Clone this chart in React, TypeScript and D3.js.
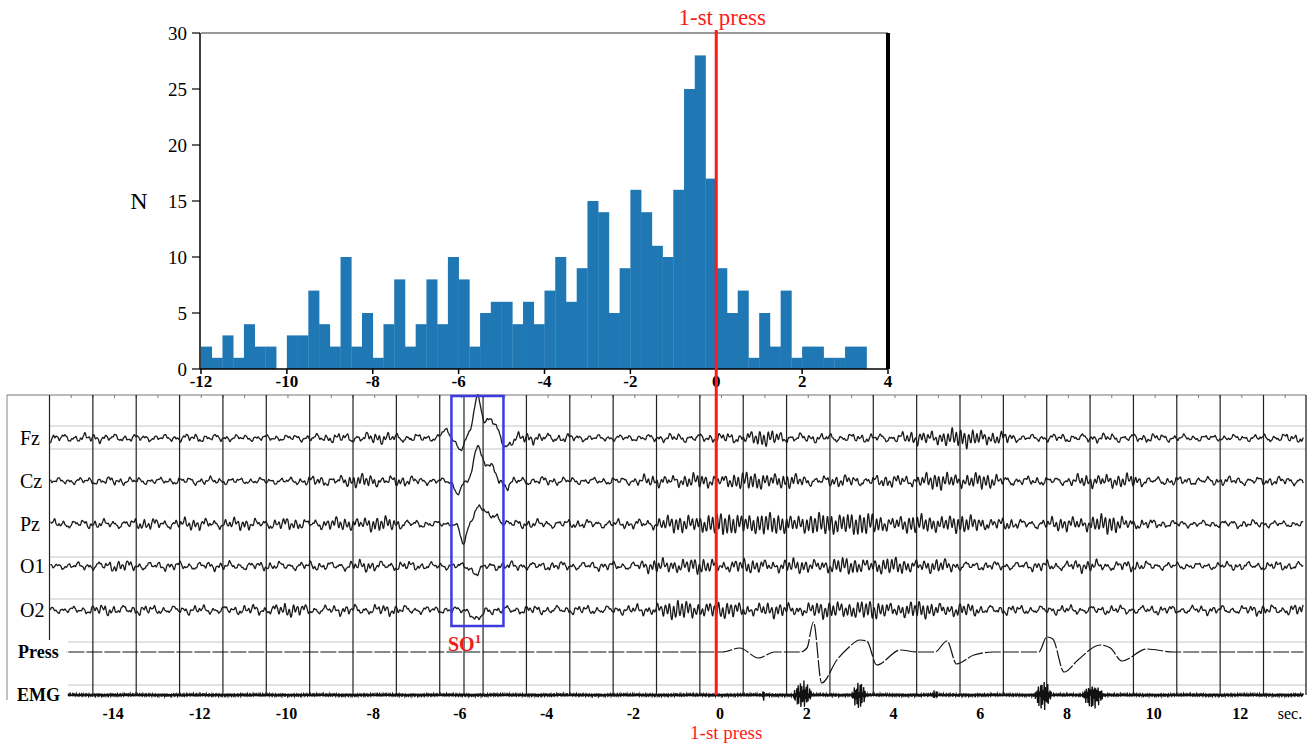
import React from "react";
import * as d3 from "d3";

// ---- histogram data (0.25 s bins starting at -12 s) ----
const histStart = -12;
const binWidth = 0.25;
const histCounts = [
  2, 1, 3, 1, 4, 2, 2, 0,
  3, 3, 7, 4, 2, 10, 2, 5,
  1, 4, 8, 2, 4, 8, 4, 10,
  8, 2, 5, 6, 6, 4, 6, 4,
  7, 10, 6, 9, 15, 14, 5, 9, 16, 14, 11, 10, 16, 25, 28, 17,
  9, 5, 7, 1, 5, 2, 7, 1, 2, 2, 1, 1, 2, 2,
];
const histXTicks = [-12, -10, -8, -6, -4, -2, 0, 2, 4];
const histYTicks = [0, 5, 10, 15, 20, 25, 30];

// ---- EEG record ----
const channels = ["Fz", "Cz", "Pz", "O1", "O2"];
// amplitude envelope per second, t = -15 ... 13
const envTimes = [-15, -14, -13, -12, -11, -10, -9, -8, -7, -6, -5, -4, -3, -2, -1, 0, 1, 2, 3, 4, 5, 6, 7, 8, 9, 10, 11, 12, 13];
const ampFz = [4, 4, 3, 4, 3, 3, 4, 5, 4, 2, 4, 5, 3, 3, 4, 4, 7, 4, 4, 4, 7, 8, 3, 4, 4, 4, 3, 3, 4];
const ampCz = [3, 4, 3, 4, 3, 3, 5, 6, 4, 2, 4, 4, 3, 4, 6, 6, 8, 5, 5, 5, 7, 7, 4, 4, 7, 4, 4, 4, 4];
const ampPz = [4, 4, 5, 5, 5, 5, 5, 7, 4, 2, 4, 4, 4, 4, 7, 9, 9, 8, 10, 7, 8, 7, 4, 6, 8, 4, 3, 4, 3];
const ampO1 = [3, 5, 4, 4, 4, 4, 4, 5, 4, 3, 4, 4, 4, 4, 7, 6, 6, 6, 7, 7, 6, 4, 4, 5, 5, 4, 3, 4, 4];
const ampO2 = [3, 5, 4, 4, 4, 6, 4, 5, 4, 3, 4, 4, 4, 4, 8, 7, 6, 6, 8, 7, 7, 5, 4, 4, 4, 4, 4, 4, 5];
const channelAmps = [ampFz, ampCz, ampPz, ampO1, ampO2];
// slow oscillation SO1 components: [time, amplitude (up +), width]
const soFz = [[-6.3, 8, 0.07], [-5.95, -12, 0.07], [-5.55, 40, 0.09], [-5.25, 18, 0.13], [-4.88, -8, 0.1]];
const soCz = [[-6.0, -12, 0.08], [-5.55, 34, 0.08], [-5.3, 16, 0.14], [-4.9, -5, 0.1]];
const soPz = [[-5.87, -20, 0.07], [-5.5, 18, 0.12], [-5.15, 8, 0.12]];
const soO1 = [[-5.58, -7, 0.1]];
const soO2 = [[-5.56, -10, 0.1]];
const channelSO = [soFz, soCz, soPz, soO1, soO2];

// button press sensor: [time, deflection (up +)]
const pressTimes = [-15.4, 0.1, 0.5, 0.93, 1.3, 1.9, 2.05, 2.2, 2.39, 2.74, 3.0, 3.27, 3.43, 3.66, 4.2, 4.6, 5.0, 5.28, 5.5, 5.9, 6.35, 7.4, 7.58, 7.72, 7.98, 8.3, 8.81, 9.05, 9.31, 9.89, 10.5, 13.5];
const pressVals = [0, 0, 4, -6, 0, 0, 4, 30, -31, -8, 4, 12, 11, -13, 2, 0, 0, 11, -12, -3, 0, 0, 15, 13, -20, -8, 7, 4, -9, 3, 0, 0];
// EMG bursts: [centre time, duration, amplitude]
const emgBursts = [[1.05, 0.04, 7], [1.95, 0.45, 11], [3.25, 0.35, 11], [5.0, 0.15, 3], [7.5, 0.4, 12], [8.65, 0.5, 10]];

const secTicks = [-14, -12, -10, -8, -6, -4, -2, 0, 2, 4, 6, 8, 10, 12];
const gridTimes = d3.range(-15.42, 13, 1);
const soMarkTime = -5.86;

const W = 1314;
const H = 745;
const serif = "'Liberation Serif', 'Times New Roman', serif";

export default function App() {
  // histogram scales
  const xh = d3.scaleLinear().domain([-12, 4]).range([201, 888]);
  const yh = d3.scaleLinear().domain([0, 30]).range([369, 33]);

  // EEG scales
  const xe = d3.scaleLinear().domain([-15.42, 13.56]).range([49.5, 1306]);
  const bases = [438, 481, 524, 566, 610];
  const pressBase = 652;
  const emgBase = 695;

  const env = d3.scaleLinear().domain(envTimes).clamp(true);

  const traces = channels.map((name, ci) => {
    env.range(channelAmps[ci]);
    const so = channelSO[ci];
    const ph = ci * 1.7;
    const y = d3.scaleLinear().domain([-20, 20]).range([bases[ci] + 20, bases[ci] - 20]);
    const pts = d3.range(-15.4, 13.5, 0.008).map((t) => {
      const a = env(t);
      const slowAmp = Math.min(a, 4.5);
      const alphaAmp = Math.max(a - 3.5, 0) * 1.3;
      let v =
        slowAmp *
          (0.55 * Math.sin(2 * Math.PI * 4.3 * t + 2 * ph + 0.4) +
            0.35 * Math.sin(2 * Math.PI * 1.7 * t + ph * 0.5) +
            0.3 * Math.sin(2 * Math.PI * 9.7 * t + ph * 3) +
            0.12 * Math.sin(2 * Math.PI * 19.3 * t + ph)) +
        alphaAmp * Math.sin(2 * Math.PI * 10.6 * t + ph);
      so.forEach(([c, amp, w]) => {
        v += amp * Math.exp(-((t - c) * (t - c)) / (2 * w * w));
      });
      return [xe(t), y(v)] as [number, number];
    });
    return { name, d: d3.line()(pts) as string };
  });

  const yp = d3.scaleLinear().domain([-20, 20]).range([pressBase + 20, pressBase - 20]);
  const pressLine = d3
    .line<number>()
    .x((_, i) => xe(pressTimes[i]))
    .y((v) => yp(v))
    .curve(d3.curveMonotoneX)(pressVals) as string;

  const ym = d3.scaleLinear().domain([-20, 20]).range([emgBase + 20, emgBase - 20]);
  const emgPts = d3.range(-15.0, 13.5, 0.004).map((t) => {
    let a = 1.1;
    emgBursts.forEach(([c, dur, amp]) => {
      const u = (t - c) / (dur / 2);
      if (Math.abs(u) < 1) a += amp * (1 - u * u);
    });
    const carrier =
      0.6 * Math.sin(2 * Math.PI * 37 * t) +
      0.4 * Math.sin(2 * Math.PI * 23.3 * t + 1.1) +
      0.3 * Math.sin(2 * Math.PI * 61 * t + 2.3);
    return [xe(t), ym(a * carrier)] as [number, number];
  });
  const emgLine = d3.line()(emgPts) as string;

  const minorTicks = d3.range(-15.42, 13.56, 0.5);
  const hLines = [426, 449, 557, 599, 642, 685];

  return (
    <svg width={W} height={H} style={{ display: "block", position: "absolute", left: 0, top: 0, background: "#fff" }} fontFamily={serif}>
      {/* ---------- histogram ---------- */}
      <g>
        {histCounts.map((c, i) => {
          const x0 = histStart + i * binWidth;
          return c > 0 ? (
            <rect key={i} x={xh(x0)} y={yh(c)} width={xh(x0 + binWidth) - xh(x0) + 0.3} height={yh(0) - yh(c)} fill="#1f77b4" />
          ) : null;
        })}
        <line x1={xh(-12)} x2={xh(4)} y1={yh(30)} y2={yh(30)} stroke="#333" strokeWidth={1.2} />
        <line x1={xh(-12) - 1} x2={xh(4)} y1={yh(0)} y2={yh(0)} stroke="#000" strokeWidth={1.5} />
        <line x1={xh(-12) - 1} x2={xh(-12) - 1} y1={yh(30)} y2={yh(0)} stroke="#000" strokeWidth={1.5} />
        <line x1={xh(4)} x2={xh(4)} y1={yh(30)} y2={yh(0)} stroke="#000" strokeWidth={4} />
        {histYTicks.map((v) => (
          <g key={v}>
            <line x1={xh(-12) - 9} x2={xh(-12) - 1} y1={yh(v)} y2={yh(v)} stroke="#000" strokeWidth={1.2} />
            <text x={xh(-12) - 14} y={yh(v)} dy="0.35em" textAnchor="end" fontSize={19}>
              {v}
            </text>
          </g>
        ))}
        {histXTicks.map((v) => (
          <g key={v}>
            <line x1={xh(v)} x2={xh(v)} y1={yh(0)} y2={yh(0) + 5} stroke="#000" strokeWidth={1.5} />
            <text x={xh(v)} y={yh(0) + 18} textAnchor="middle" fontSize={17} fontWeight="bold">
              {v}
            </text>
          </g>
        ))}
        <text x={139} y={yh(15) + 8} textAnchor="middle" fontSize={24}>
          N
        </text>
      </g>

      {/* ---------- EEG record ---------- */}
      <g>
        <line x1={7} x2={1306} y1={395} y2={395} stroke="#777" strokeWidth={1.2} />
        <line x1={7} x2={7} y1={395} y2={700} stroke="#999" strokeWidth={1.2} />
        {minorTicks.map((t, i) => (
          <line key={i} x1={xe(t)} x2={xe(t)} y1={395} y2={398} stroke="#777" strokeWidth={1} />
        ))}
        {hLines.map((y, i) => (
          <line key={i} x1={i < 4 ? 50 : 68} x2={1306} y1={y} y2={y} stroke="#c8c8c8" strokeWidth={1.2} />
        ))}
        {gridTimes.map((t, i) => (
          <line key={i} x1={xe(t)} x2={xe(t)} y1={395} y2={i === 0 ? 640 : emgBase} stroke="#222" strokeWidth={1.2} />
        ))}
        <line x1={xe(soMarkTime)} x2={xe(soMarkTime)} y1={395} y2={emgBase} stroke="#222" strokeWidth={1.2} />
        <line x1={xe(13.56)} x2={xe(13.56)} y1={395} y2={emgBase} stroke="#333" strokeWidth={1.4} />

        {traces.map((tr, i) => (
          <g key={tr.name}>
            <path d={tr.d} fill="none" stroke="#1a1a1a" strokeWidth={1.3} strokeLinejoin="round" />
            <text x={20} y={bases[i]} dy="0.35em" fontSize={20}>
              {tr.name}
            </text>
          </g>
        ))}
        <path d={pressLine} fill="none" stroke="#111" strokeWidth={1.2} strokeDasharray="16,2" />
        <path d={emgLine} fill="none" stroke="#111" strokeWidth={1.3} />
        <rect x={10} y={pressBase - 11} width={56} height={22} fill="#fff" />
        <text x={18} y={pressBase} dy="0.35em" fontSize={18} fontWeight="bold">
          Press
        </text>
        <rect x={10} y={emgBase - 10} width={54} height={20} fill="#fff" />
        <text x={17} y={emgBase} dy="0.35em" fontSize={18} fontWeight="bold">
          EMG
        </text>

        <rect x={xe(-6.15)} y={396} width={xe(-4.95) - xe(-6.15)} height={230} fill="none" stroke="#3b3be0" strokeWidth={2.5} />
        <text x={448} y={651} fontSize={20} fontWeight="bold" fill="#ee1c1c">
          SO
          <tspan fontSize={13} dy={-8}>
            1
          </tspan>
        </text>

        {secTicks.map((t) => (
          <text key={t} x={xe(t) + 2} y={719} textAnchor="middle" fontSize={16} fontWeight="bold">
            {t}
          </text>
        ))}
        <text x={1290} y={719} textAnchor="middle" fontSize={16}>
          sec.
        </text>
      </g>

      {/* ---------- first press marker ---------- */}
      <line x1={xh(0)} x2={xh(0)} y1={30} y2={emgBase} stroke="#ff1a1a" strokeWidth={3} />
      <text x={xh(0) + 6} y={25} textAnchor="middle" fontSize={23} fill="#ff1a1a">
        1-st press
      </text>
      <text x={xh(0) + 10} y={739} textAnchor="middle" fontSize={19} fill="#ff1a1a">
        1-st press
      </text>
    </svg>
  );
}
